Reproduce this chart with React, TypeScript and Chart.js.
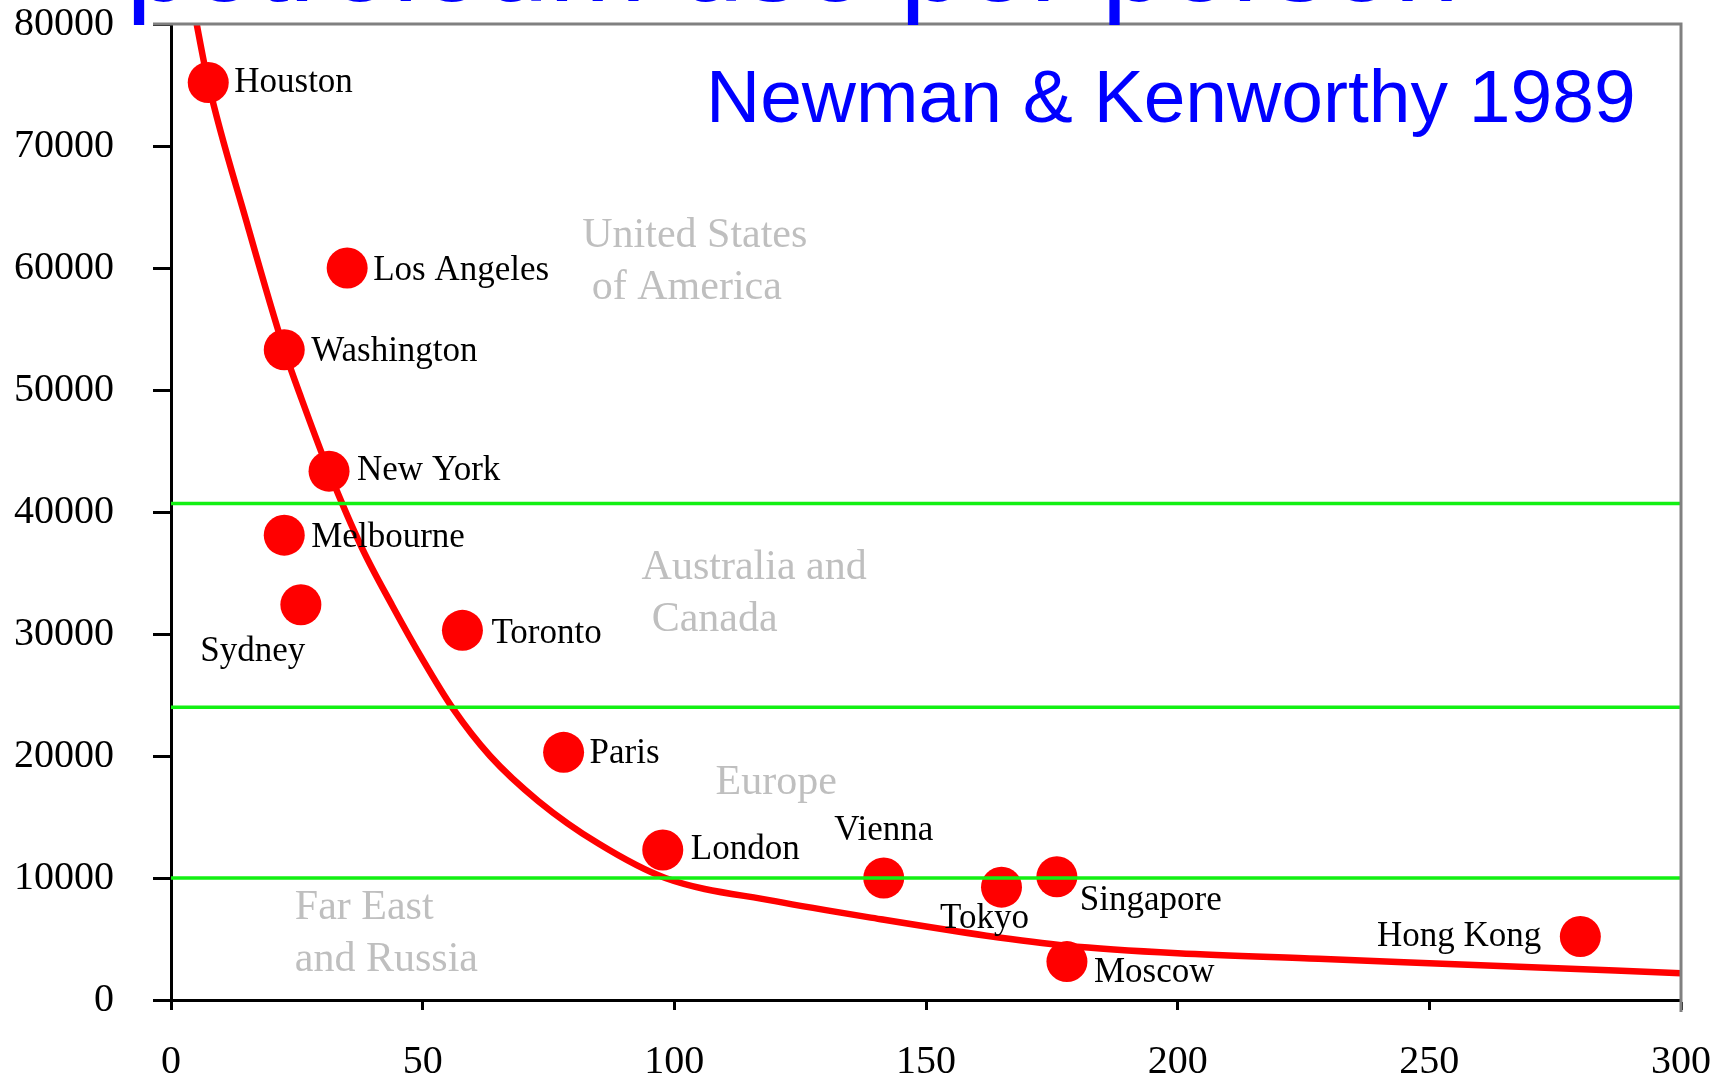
import { useEffect, useRef } from 'react';
import { Chart, registerables } from 'chart.js';

Chart.register(...registerables);

// Cities: urban density (persons per hectare) vs. gasoline use per person
const cities = [
  'Houston', 'Los Angeles', 'Washington', 'New York', 'Melbourne', 'Sydney', 'Toronto',
  'Paris', 'London', 'Vienna', 'Tokyo', 'Singapore', 'Moscow', 'Hong Kong',
];
const density = [7.4, 35, 22.5, 31.4, 22.5, 25.8, 57.9, 78, 97.7, 141.6, 165, 176, 178, 280];
const fuelUse = [75200, 60000, 53300, 43350, 38100, 32400, 30300, 20300, 12300, 10000, 9250, 10100, 3150, 5200];

// Hand-drawn trend curve, sampled along its length
const trendDensity = [4.5, 7.4, 15, 22.5, 26, 31.4, 38, 44, 50, 56, 63.4, 73, 85, 98.2, 120, 141, 162, 178, 200, 228, 250, 300];
const trendFuel = [81300, 75200, 63800, 53300, 49200, 43300, 37000, 32300, 27900, 23900, 20000, 16300, 12800, 10000, 8100, 6620, 5270, 4450, 3830, 3380, 3020, 2200];

// Boundaries between the regional bands
const bandLimits = [40700, 24000, 10000];

// Regional captions and where they sit (in data units)
const regionCaptions = ['United States', 'of America', 'Australia and', 'Canada', 'Europe', 'Far East', 'and Russia'];
const regionAnchors: [number, number][] = [
  [81.7, 62660], [83.6, 58330], [93.5, 35410], [95.5, 31160], [108.2, 17810], [24.6, 7540], [24.6, 3280],
];

const xMax = 300;
const yMax = 80000;
const xStep = 50;
const yStep = 10000;

const headline = 'petroleum use per person';
const source = 'Newman & Kenworthy 1989';

const labelPlacement: Record<string, { dx: number; dy: number; align: CanvasTextAlign }> = {
  Houston: { dx: 26, dy: 0, align: 'left' },
  'Los Angeles': { dx: 26, dy: 3, align: 'left' },
  Washington: { dx: 27, dy: 2, align: 'left' },
  'New York': { dx: 28, dy: 0, align: 'left' },
  Melbourne: { dx: 27, dy: 3, align: 'left' },
  Sydney: { dx: -48, dy: 47, align: 'center' },
  Toronto: { dx: 29, dy: 3, align: 'left' },
  Paris: { dx: 26, dy: 1, align: 'left' },
  London: { dx: 28, dy: 0, align: 'left' },
  Vienna: { dx: 0, dy: -47, align: 'center' },
  Tokyo: { dx: -17, dy: 32, align: 'center' },
  Singapore: { dx: 23, dy: 24, align: 'left' },
  Moscow: { dx: 27, dy: 11, align: 'left' },
  'Hong Kong': { dx: -39, dy: 0, align: 'right' },
};

const SERIF = '"Liberation Serif", "Times New Roman", serif';
const SANS = '"Liberation Sans", Arial, sans-serif';

const annotations = {
  id: 'annotations',
  afterDraw(chart: any) {
    const { ctx, chartArea, scales } = chart;
    const xs = scales.x;
    const ys = scales.y;

    // grey frame on the top and right
    ctx.save();
    ctx.strokeStyle = '#808080';
    ctx.lineWidth = 3;
    ctx.beginPath();
    ctx.moveTo(chartArea.left - 18, chartArea.top);
    ctx.lineTo(chartArea.right, chartArea.top);
    ctx.lineTo(chartArea.right, chartArea.bottom + 12);
    ctx.stroke();
    ctx.restore();

    // regional captions
    ctx.save();
    ctx.font = `42px ${SERIF}`;
    ctx.fillStyle = '#BFBFBF';
    ctx.textAlign = 'left';
    ctx.textBaseline = 'middle';
    regionCaptions.forEach((t, i) => {
      const [vx, vy] = regionAnchors[i];
      ctx.fillText(t, xs.getPixelForValue(vx), ys.getPixelForValue(vy));
    });
    ctx.restore();

    // city names next to their points
    const meta = chart.getDatasetMeta(3);
    ctx.save();
    ctx.font = `35px ${SERIF}`;
    ctx.fillStyle = '#000';
    ctx.textBaseline = 'middle';
    meta.data.forEach((pt: any, i: number) => {
      const p = labelPlacement[cities[i]];
      ctx.textAlign = p.align;
      ctx.fillText(cities[i], pt.x + p.dx, pt.y + p.dy);
    });
    ctx.restore();

    // headings
    ctx.save();
    ctx.fillStyle = '#0000FF';
    ctx.textAlign = 'left';
    ctx.textBaseline = 'alphabetic';
    ctx.font = `117px ${SANS}`;
    ctx.fillText(headline, 126, 1);
    ctx.font = `75px ${SANS}`;
    ctx.fillText(source, 706, 122);
    ctx.restore();
  },
};

export default function App() {
  const ref = useRef<HTMLCanvasElement | null>(null);

  useEffect(() => {
    if (!ref.current) return;

    const bandSets = bandLimits.map((v) => ({
      type: 'scatter' as const,
      data: [{ x: 0, y: v }, { x: xMax, y: v }],
      showLine: true,
      borderColor: '#12F012',
      borderWidth: 3.5,
      pointRadius: 0,
      order: 0,
    }));

    const chart = new Chart(ref.current, {
      type: 'scatter',
      data: {
        datasets: [
          ...bandSets,
          {
            type: 'scatter',
            data: density.map((x, i) => ({ x, y: fuelUse[i] })),
            backgroundColor: '#FF0000',
            borderWidth: 0,
            pointRadius: 20.5,
            pointHoverRadius: 20.5,
            clip: false as any,
            order: 1,
          },
          {
            type: 'scatter',
            data: trendDensity.map((x, i) => ({ x, y: trendFuel[i] })),
            showLine: true,
            borderColor: '#FF0000',
            borderWidth: 6.5,
            pointRadius: 0,
            cubicInterpolationMode: 'monotone',
            clip: 0 as any,
            order: 2,
          },
        ],
      },
      options: {
        responsive: false,
        animation: false,
        devicePixelRatio: 1,
        layout: { padding: { top: 24, right: 45, left: 0, bottom: 0 } },
        plugins: { legend: { display: false }, tooltip: { enabled: false } },
        events: [],
        scales: {
          x: {
            type: 'linear',
            min: 0,
            max: xMax,
            afterFit: (s: any) => {
              s.height = 84;
              s.paddingLeft = 0;
              s.paddingRight = 0;
            },
            border: { display: true, color: '#000', width: 3 },
            grid: { drawOnChartArea: false, tickLength: 10, tickColor: '#000', tickWidth: 3 },
            ticks: {
              stepSize: xStep,
              maxRotation: 0,
              padding: 28,
              color: '#000',
              font: { family: SERIF, size: 40 },
              callback: (v: any) => String(v),
            },
          },
          y: {
            type: 'linear',
            min: 0,
            max: yMax,
            afterFit: (s: any) => {
              s.width = 171;
              s.paddingTop = 0;
              s.paddingBottom = 0;
            },
            border: { display: true, color: '#000', width: 3 },
            grid: { drawOnChartArea: false, tickLength: 18, tickColor: '#000', tickWidth: 3 },
            ticks: {
              stepSize: yStep,
              padding: 39,
              color: '#000',
              font: { family: SERIF, size: 40 },
              callback: (v: any) => String(v),
            },
          },
        },
      },
      plugins: [annotations],
    });

    return () => chart.destroy();
  }, []);

  return (
    <div style={{ position: 'fixed', left: 0, top: 0, width: 1726, height: 1084, background: '#fff' }}>
      <canvas ref={ref} width={1726} height={1084} />
    </div>
  );
}
